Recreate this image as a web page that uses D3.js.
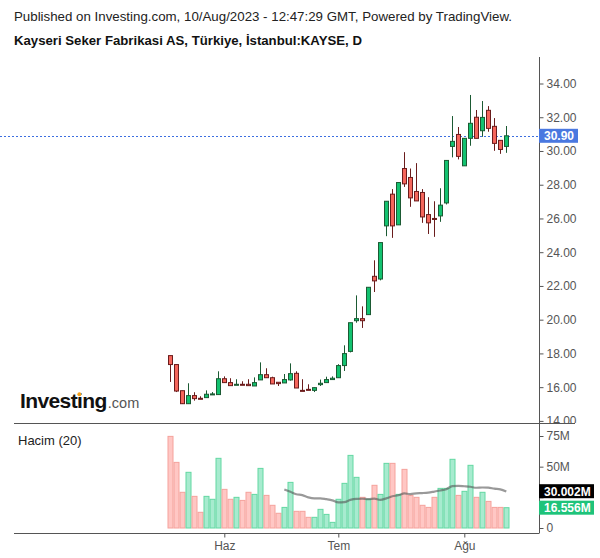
<!DOCTYPE html>
<html><head><meta charset="utf-8">
<script src="https://cdn.jsdelivr.net/npm/d3@7"></script>
<style>
body{margin:0;background:#fff}
svg{display:block;font-family:"Liberation Sans",Arial,sans-serif}
</style>
</head><body>
<svg id="c" width="600" height="558"></svg>
<script>
// ---------- data ----------
const dates = [
 "2023-05-18","2023-05-22","2023-05-23","2023-05-24","2023-05-25","2023-05-26","2023-05-29","2023-05-30","2023-05-31",
 "2023-06-01","2023-06-02","2023-06-05","2023-06-06","2023-06-07","2023-06-08","2023-06-09","2023-06-12","2023-06-13",
 "2023-06-14","2023-06-15","2023-06-16","2023-06-19","2023-06-20","2023-06-21","2023-06-22","2023-06-23","2023-06-26","2023-06-27",
 "2023-07-03","2023-07-04","2023-07-05","2023-07-06","2023-07-07","2023-07-10","2023-07-11","2023-07-12","2023-07-13","2023-07-14",
 "2023-07-17","2023-07-18","2023-07-19","2023-07-20","2023-07-21","2023-07-24","2023-07-25","2023-07-26","2023-07-27","2023-07-28","2023-07-31",
 "2023-08-01","2023-08-02","2023-08-03","2023-08-04","2023-08-07","2023-08-08","2023-08-09","2023-08-10"
];
const openP  = [17.87,17.34,15.79,15.02,15.50,15.34,15.38,15.56,15.56,16.50,16.27,16.13,16.17,16.17,16.07,16.43,16.74,16.56,16.29,16.25,16.43,16.82,15.81,15.87,15.81,16.15,16.27,16.45,16.56,17.28,18.12,19.94,20.06,20.30,22.57,22.41,25.56,27.44,25.62,28.96,28.43,27.60,27.54,26.23,26.00,26.15,26.92,30.27,30.98,29.12,30.75,32.00,31.20,32.41,31.46,30.63,30.27];
const highP  = [17.87,17.36,15.79,16.23,15.70,15.46,15.81,15.71,16.94,16.64,16.53,16.47,16.35,16.47,16.58,17.47,17.12,16.62,16.29,16.78,17.41,16.94,16.47,16.17,15.99,16.45,16.62,16.64,17.36,18.48,19.82,21.44,20.79,21.92,23.52,24.57,27.02,27.74,28.13,29.93,28.96,29.28,27.74,27.26,27.02,27.79,29.44,32.07,31.42,30.75,33.32,32.43,32.96,32.66,31.95,30.63,31.48];
const lowP   = [16.31,15.71,15.00,15.02,15.20,15.30,15.38,15.56,15.56,16.27,16.09,16.13,16.13,16.09,16.07,16.43,16.56,16.19,16.07,16.25,16.39,15.95,15.77,15.83,15.71,16.07,16.27,16.45,16.56,16.96,18.06,19.82,19.51,20.30,21.64,22.33,24.95,24.85,25.62,27.87,26.69,27.04,25.74,25.08,24.91,25.80,26.83,29.62,29.50,29.12,30.31,30.75,30.84,31.14,30.01,29.83,29.89];
const closeP = [17.34,15.77,15.02,15.50,15.32,15.30,15.58,15.60,16.50,16.27,16.09,16.17,16.13,16.09,16.27,16.74,16.56,16.19,16.21,16.45,16.80,15.95,15.77,15.83,15.97,16.23,16.45,16.53,17.28,17.99,19.82,20.06,19.94,21.92,22.30,24.57,27.02,25.56,28.13,28.05,27.22,27.04,26.09,25.74,25.94,26.79,29.44,30.57,29.68,30.75,31.64,30.75,31.99,31.34,30.45,30.09,30.90];
const volumeM = [74.7,53.5,29.1,45.4,25.8,12.8,25.8,23.4,56.8,31.5,23.4,25.0,22.5,29.1,27.4,48.6,26.6,18.5,12.0,16.8,37.2,13.6,13.6,8.7,8.7,15.2,11.1,4.6,23.4,36.4,59.2,41.3,25.0,23.4,34.8,27.4,52.7,52.7,27.4,47.8,26.6,25.0,18.5,16.8,25.0,32.3,32.3,56.0,26.6,29.9,51.1,25.0,29.1,21.7,16.8,16.8,16.556];
const priceTicks = [14,16,18,20,22,24,26,28,30,32,34];
const volTicks = [0,25,50,75];
const volTickLabels = ["0","","50M","75M"]; // 25M is hidden behind the value tags
const monthTicks = ["2023-06-01","2023-07-03","2023-08-01"];
const monthLabels = ["Haz","Tem","Ağu"];
const lastPriceLabel = "30.90";
const lastPrice = 30.90;
const maLabel = "30.002M";
const maValue = 30.002;
const lastVolLabel = "16.556M";
const lastVol = 16.556;
const maPeriod = 20;

// ---------- layout ----------
const svg = d3.select("#c");
const axisX = 539;
const x = d3.scalePoint().domain(dates).range([170.3, 506.3]);
const y = d3.scaleLinear().domain([14, 34]).range([420.9, 83.5]);
const yv = d3.scaleLinear().domain([0, 75]).range([528, 436]);

const upFill = "#13c270", upLine = "#1b5a33", dnFill = "#f5665c", dnLine = "#6a1c1c";
const vUpFill = "#a7ebcf", vUpLine = "#63d8a2", vDnFill = "#ffc7c4", vDnLine = "#f5a29c";

// titles
svg.append("text").attr("x", 14).attr("y", 21).attr("font-size", 13.3).attr("fill", "#222")
  .text("Published on Investing.com, 10/Aug/2023 - 12:47:29 GMT, Powered by TradingView.");
svg.append("text").attr("x", 14).attr("y", 45).attr("font-size", 13.2).attr("font-weight", "bold").attr("fill", "#111")
  .text("Kayseri Seker Fabrikasi AS, Türkiye, İstanbul:KAYSE, D");

// clip for price pane
const defs = svg.append("defs");
defs.append("clipPath").attr("id", "pc").append("rect").attr("x", 0).attr("y", 57).attr("width", 600).attr("height", 366);

const data = dates.map((d, i) => ({d, o: openP[i], h: highP[i], l: lowP[i], c: closeP[i], v: volumeM[i], up: closeP[i] >= openP[i]}));

// logo
const logo = svg.append("g");
const lt = logo.append("text").attr("x", 20).attr("y", 408).attr("font-size", 21).attr("font-weight", "bold")
  .attr("letter-spacing", -0.6).attr("fill", "#111").text("Investing");
const ltw = lt.node().getComputedTextLength();
logo.append("text").attr("x", 20 + ltw + 1).attr("y", 408).attr("font-size", 14.5).attr("fill", "#555").text(".com");
try {
  const ex = lt.node().getExtentOfChar(6);
  logo.append("circle").attr("cx", ex.x + ex.width / 2 - 0.3).attr("cy", ex.y + 5.2).attr("r", 2).attr("fill", "#f7a21b");
} catch (e) {}

// last price dashed line
svg.append("line").attr("x1", 0).attr("x2", axisX).attr("y1", Math.round(y(lastPrice)) + 0.5).attr("y2", Math.round(y(lastPrice)) + 0.5)
  .attr("stroke", "#3d6fe0").attr("stroke-width", 1).attr("stroke-dasharray", "2,2");

// candles
const cg = svg.append("g").attr("clip-path", "url(#pc)");
const bw = 4;
cg.selectAll("line.w").data(data).join("line")
  .attr("x1", d => Math.round(x(d.d)) + 0.5).attr("x2", d => Math.round(x(d.d)) + 0.5)
  .attr("y1", d => y(d.h)).attr("y2", d => y(d.l))
  .attr("stroke", d => d.up ? upLine : dnLine).attr("stroke-width", 1);
cg.selectAll("rect.b").data(data).join("rect")
  .attr("x", d => Math.round(x(d.d)) - bw / 2 + 0.5)
  .attr("y", d => y(Math.max(d.o, d.c)))
  .attr("width", bw)
  .attr("height", d => Math.max(1, Math.abs(y(d.o) - y(d.c))))
  .attr("fill", d => d.up ? upFill : dnFill)
  .attr("stroke", d => d.up ? upLine : dnLine).attr("stroke-width", 1);

// volume bars
const vg = svg.append("g");
const vbw = 5;
vg.selectAll("rect").data(data).join("rect")
  .attr("x", d => Math.round(x(d.d)) - 2.5 + 0.5)
  .attr("y", d => yv(d.v))
  .attr("width", vbw)
  .attr("height", d => yv(0) - yv(d.v))
  .attr("fill", d => d.up ? vUpFill : vDnFill)
  .attr("stroke", d => d.up ? vUpLine : vDnLine).attr("stroke-width", 1);

// moving average
const ma = data.map((d, i) => i < maPeriod - 1 ? null : {d: d.d, v: d3.mean(volumeM.slice(i - maPeriod + 1, i + 1))}).filter(Boolean);
svg.append("path").datum(ma)
  .attr("d", d3.line().x(d => x(d.d)).y(d => yv(d.v)).curve(d3.curveMonotoneX))
  .attr("fill", "none").attr("stroke", "#555").attr("stroke-opacity", 0.6).attr("stroke-width", 2.2);

// pane separators and axes lines
svg.append("line").attr("x1", 14).attr("x2", 575).attr("y1", 423.5).attr("y2", 423.5).attr("stroke", "#555");
svg.append("line").attr("x1", 14).attr("x2", axisX).attr("y1", 533.5).attr("y2", 533.5).attr("stroke", "#555");
svg.append("line").attr("x1", axisX + 0.5).attr("x2", axisX + 0.5).attr("y1", 57).attr("y2", 533.5).attr("stroke", "#555");

// right price axis
const pa = svg.append("g").attr("transform", `translate(${axisX + 0.5},0)`).attr("clip-path", "url(#pc)")
  .call(d3.axisRight(y).tickValues(priceTicks).tickFormat(d3.format(".2f")).tickSize(4).tickPadding(3));
pa.select(".domain").remove();
pa.selectAll("line").attr("stroke", "#555");
pa.selectAll("text").attr("fill", "#555").attr("font-size", 12).attr("font-family", "Liberation Sans, Arial, sans-serif");

// right volume axis
const va = svg.append("g").attr("transform", `translate(${axisX + 0.5},0)`)
  .call(d3.axisRight(yv).tickValues(volTicks).tickFormat((d, i) => volTickLabels[i]).tickSize(4).tickPadding(3));
va.select(".domain").remove();
va.selectAll("line").attr("stroke", "#555");
va.selectAll("text").attr("fill", "#555").attr("font-size", 12).attr("font-family", "Liberation Sans, Arial, sans-serif");

// bottom axis
const xa = svg.append("g").attr("transform", "translate(0,533.5)")
  .call(d3.axisBottom(x).tickValues(monthTicks).tickFormat((d, i) => monthLabels[i]).tickSize(4).tickPadding(4));
xa.select(".domain").remove();
xa.selectAll("line").attr("stroke", "#555");
xa.selectAll("text").attr("fill", "#555").attr("font-size", 12).attr("font-family", "Liberation Sans, Arial, sans-serif");

// value labels on right axis
function tag(val, scale, txt, bg, w) {
  const cy = scale(val);
  svg.append("rect").attr("x", axisX).attr("y", cy - 7).attr("width", w).attr("height", 14).attr("fill", bg);
  svg.append("text").attr("x", axisX + 5).attr("y", cy + 4.5).attr("font-size", 12).attr("font-weight", "bold")
    .attr("fill", "#fff").text(txt);
}
tag(lastPrice, y, lastPriceLabel, "#4a78e0", 39);
tag(maValue, yv, maLabel, "#000", 55);
tag(lastVol, yv, lastVolLabel, "#1ec37a", 55);

// volume pane title
svg.append("text").attr("x", 18).attr("y", 445).attr("font-size", 13).attr("fill", "#222").text("Hacim (20)");
</script>
</body></html>
